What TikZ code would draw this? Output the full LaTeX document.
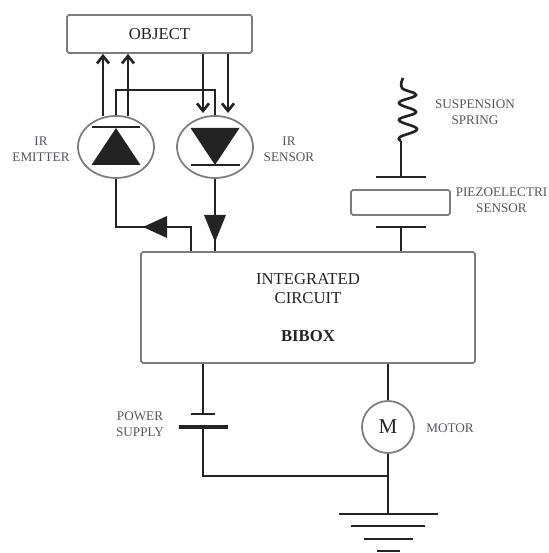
\documentclass[tikz,border=0pt]{standalone}
\usepackage{fontspec}
\setmainfont{Liberation Serif}
\usetikzlibrary{arrows.meta,shapes.geometric}
\definecolor{chline}{RGB}{35,35,35}
\definecolor{chedge}{RGB}{125,125,125}
\definecolor{chlabel}{RGB}{85,85,95}

\begin{document}
\begin{tikzpicture}[>={Straight Barb[length=1.5mm,width=2.4mm]},
  box/.style={draw=chedge,line width=1pt,rounded corners=1pt,inner sep=0pt,
              align=center,text=chline,font=\fontsize{9.5}{10.8}\selectfont},
  diode/.style={draw=chedge,line width=1pt,ellipse,minimum width=1.52cm,minimum height=1.24cm,inner sep=0pt},
  wire/.style={draw=chline,line width=1.5pt},
  lab/.style={align=center,text=chlabel,inner sep=0pt,font=\fontsize{7.5}{9.1}\selectfont}]
  \useasboundingbox (0,0) rectangle (10.98,11.06);

  % boxes
  \node[box,minimum width=3.7cm,minimum height=.76cm]   (object) at (3.19,10.38) {OBJECT};
  \node[box,minimum width=6.68cm,minimum height=2.22cm] (ic)     at (6.16,4.91)  {INTEGRATED\\CIRCUIT\\[11pt]\textbf{BIBOX}};
  \node[box,minimum width=1.98cm,minimum height=.5cm]   (piezo)  at (8.01,7.01)  {};
  \node[diode] (emitter) at (2.32,8.12) {};
  \node[diode] (sensor)  at (4.30,8.12) {};
  \node[draw=chedge,line width=1pt,circle,minimum size=1.04cm,inner sep=0pt,text=chline,
        font=\fontsize{12}{12}\selectfont] (motor) at (7.76,2.52) {M};

  % labels
  \node[lab] (emitterlab) at (.82,8.08)  {IR\\EMITTER};
  \node[lab] (sensorlab)  at (5.78,8.08) {IR\\SENSOR};
  \node[lab] (springlab)  at (9.5,8.82)  {SUSPENSION\\SPRING};
  \node[lab] (piezolab)   at (10.03,7.06) {PIEZOELECTRI\\SENSOR};
  \node[lab] (powerlab)   at (2.8,2.58)  {POWER\\SUPPLY};
  \node[lab] (motorlab)   at (9.0,2.5)   {MOTOR};

  % diodes
  \fill[chline] ([shift={(0,.38)}]emitter.center) -- ([shift={(.49,-.36)}]emitter.center)
    -- ([shift={(-.49,-.36)}]emitter.center) -- cycle;
  \draw[wire] ([shift={(-.48,.4)}]emitter.center) -- ([shift={(.48,.4)}]emitter.center);
  \fill[chline] ([shift={(0,-.36)}]sensor.center) -- ([shift={(.49,.38)}]sensor.center)
    -- ([shift={(-.49,.38)}]sensor.center) -- cycle;
  \draw[wire] ([shift={(-.49,-.36)}]sensor.center) -- ([shift={(.49,-.36)}]sensor.center);

  % light paths
  \coordinate (up1) at (2.06,8.74);
  \coordinate (up2) at (2.56,8.74);
  \coordinate (dn1) at (4.06,8.80);
  \coordinate (dn2) at (4.56,8.80);
  \draw[wire,->] (up1) -- (up1 |- object.south);
  \draw[wire,->] (up2) -- (up2 |- object.south);
  \draw[wire,->] (dn1 |- object.south) -- (dn1);
  \draw[wire,->] (dn2 |- object.south) -- (dn2);
  \coordinate (top) at (3.3,9.26);
  \draw[wire] (emitter.north) |- (top) -| (sensor.north);

  % to the circuit
  \coordinate (emturn) at (3.82,6.52);
  \draw[wire] (emitter.south) |- (emturn) -- (emturn |- ic.north);
  \draw[wire] (sensor.south) -- (sensor.south |- ic.north);
  \fill[chline] (2.86,6.52) -- (3.34,6.74) -- (3.34,6.30) -- cycle;
  \fill[chline] (4.30,6.22) -- (4.52,6.76) -- (4.08,6.76) -- cycle;

  % spring and piezo plates
  \coordinate (springend) at (8.02,8.24);
  \coordinate (plateA) at (8.02,7.52);
  \coordinate (plateB) at (8.02,6.52);
  \draw[wire] plot[smooth,tension=.7] coordinates {(8.06,9.5) (8.04,9.3) (8.32,9.16) (7.98,9.0)
    (8.32,8.82) (7.98,8.66) (8.34,8.48) (8.0,8.32) (springend)};
  \draw[wire] (springend) -- (plateA);
  \draw[wire] ([xshift=-.5cm]plateA) -- ([xshift=.5cm]plateA);
  \draw[wire] ([xshift=-.5cm]plateB) -- ([xshift=.5cm]plateB);
  \draw[wire] (plateB) -- (plateB |- ic.north);

  % supply and motor
  \coordinate (batA) at (4.06,2.78);
  \coordinate (batB) at (4.06,2.52);
  \coordinate (gnd1) at (7.76,.78);
  \coordinate (gnd2) at (7.76,.54);
  \coordinate (gnd3) at (7.76,.28);
  \coordinate (gnd4) at (7.76,.04);
  \coordinate (join) at (7.76,1.54);
  \draw[wire] (batA |- ic.south) -- (batA);
  \draw[wire] ([xshift=-.24cm]batA) -- ([xshift=.24cm]batA);
  \draw[wire,line width=2pt] ([xshift=-.49cm]batB) -- ([xshift=.49cm]batB);
  \draw[wire] (batB) |- (join);
  \draw[wire] (motor.north |- ic.south) -- (motor.north);
  \draw[wire] (motor.south) -- (gnd1);
  \draw[wire] ([xshift=-.99cm]gnd1) -- ([xshift=.99cm]gnd1);
  \draw[wire] ([xshift=-.74cm]gnd2) -- ([xshift=.74cm]gnd2);
  \draw[wire] ([xshift=-.49cm]gnd3) -- ([xshift=.49cm]gnd3);
  \draw[wire] ([xshift=-.23cm]gnd4) -- ([xshift=.23cm]gnd4);
\end{tikzpicture}
\end{document}
